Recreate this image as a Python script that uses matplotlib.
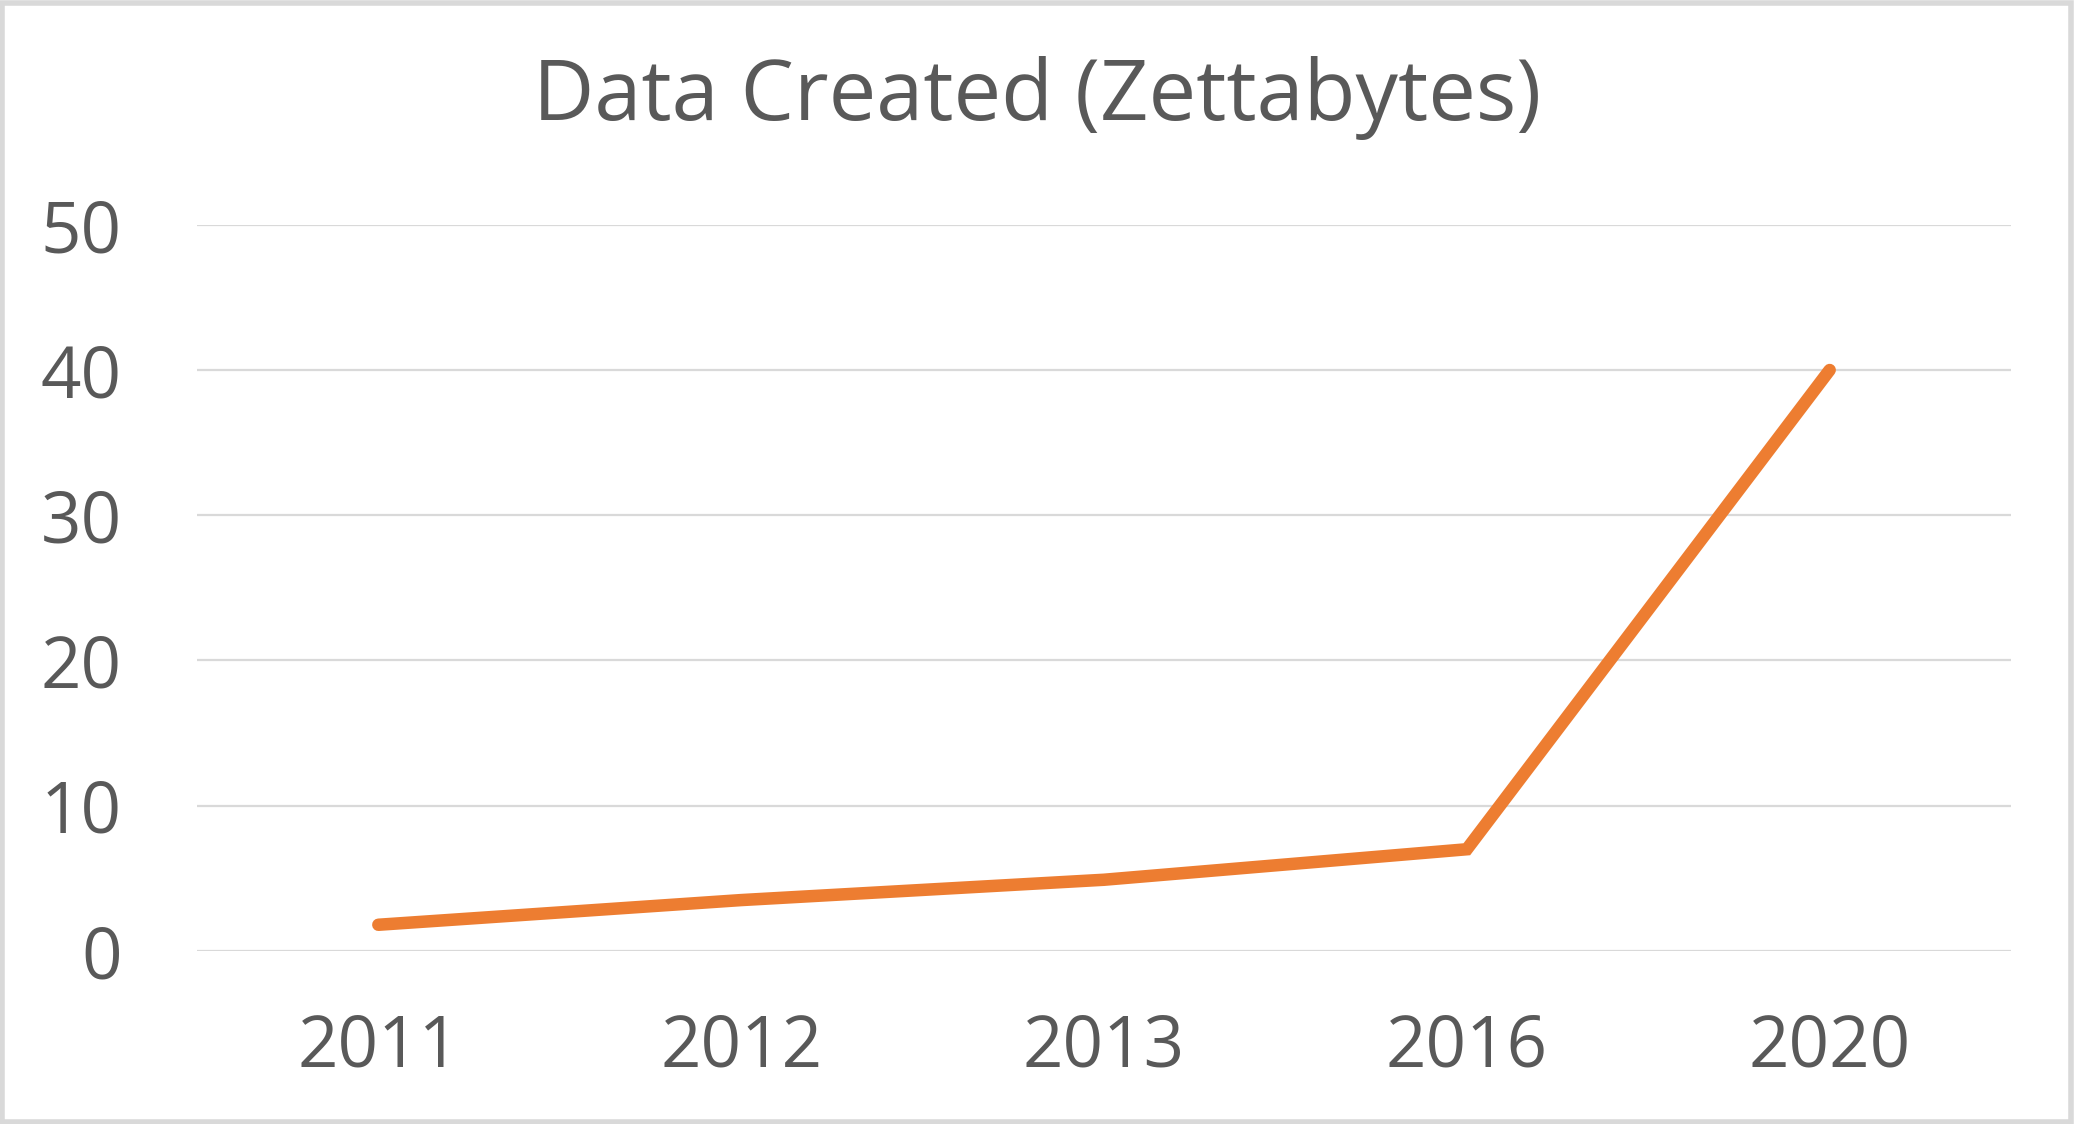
import matplotlib.pyplot as plt
from matplotlib.patches import Rectangle

years = ['2011', '2012', '2013', '2016', '2020']
zettabytes = [1.8, 3.5, 4.9, 7.0, 40.0]
yticks = [0, 10, 20, 30, 40, 50]

plt.rcParams['font.family'] = ['Open Sans', 'DejaVu Sans']

fig = plt.figure(figsize=(20.75, 11.24), dpi=100)
ax = fig.add_axes([0.0949, 0.154, 0.8743, 0.646])

x = list(range(len(years)))
ax.plot(x, zettabytes, color='#ED7D31', linewidth=9,
        solid_capstyle='round', solid_joinstyle='miter', zorder=3)

ax.set_xlim(-0.5, len(years) - 0.5)
ax.set_ylim(0, 50)
ax.set_xticks(x)
ax.set_xticklabels(years)
ax.set_yticks(yticks)

# gridlines, Excel style
ax.grid(axis='y', color='#d9d9d9', linewidth=1.6)
ax.set_axisbelow(True)
for s in ax.spines.values():
    s.set_visible(False)
ax.tick_params(length=0, labelsize=51, colors='#595959')
ax.tick_params(axis='y', pad=54)
ax.tick_params(axis='x', pad=44)
for lbl in ax.get_yticklabels():
    lbl.set_horizontalalignment('right')

fig.text(0.5, 0.913, 'Data Created (Zettabytes)', ha='center', va='center',
         fontsize=61, color='#595959')

# light gray chart border
fig.patches.append(Rectangle((0.001, 0.002), 0.997, 0.995, transform=fig.transFigure,
                             fill=False, edgecolor='#d9d9d9', linewidth=4))

fig.savefig('out.png', dpi=100, facecolor='white')
